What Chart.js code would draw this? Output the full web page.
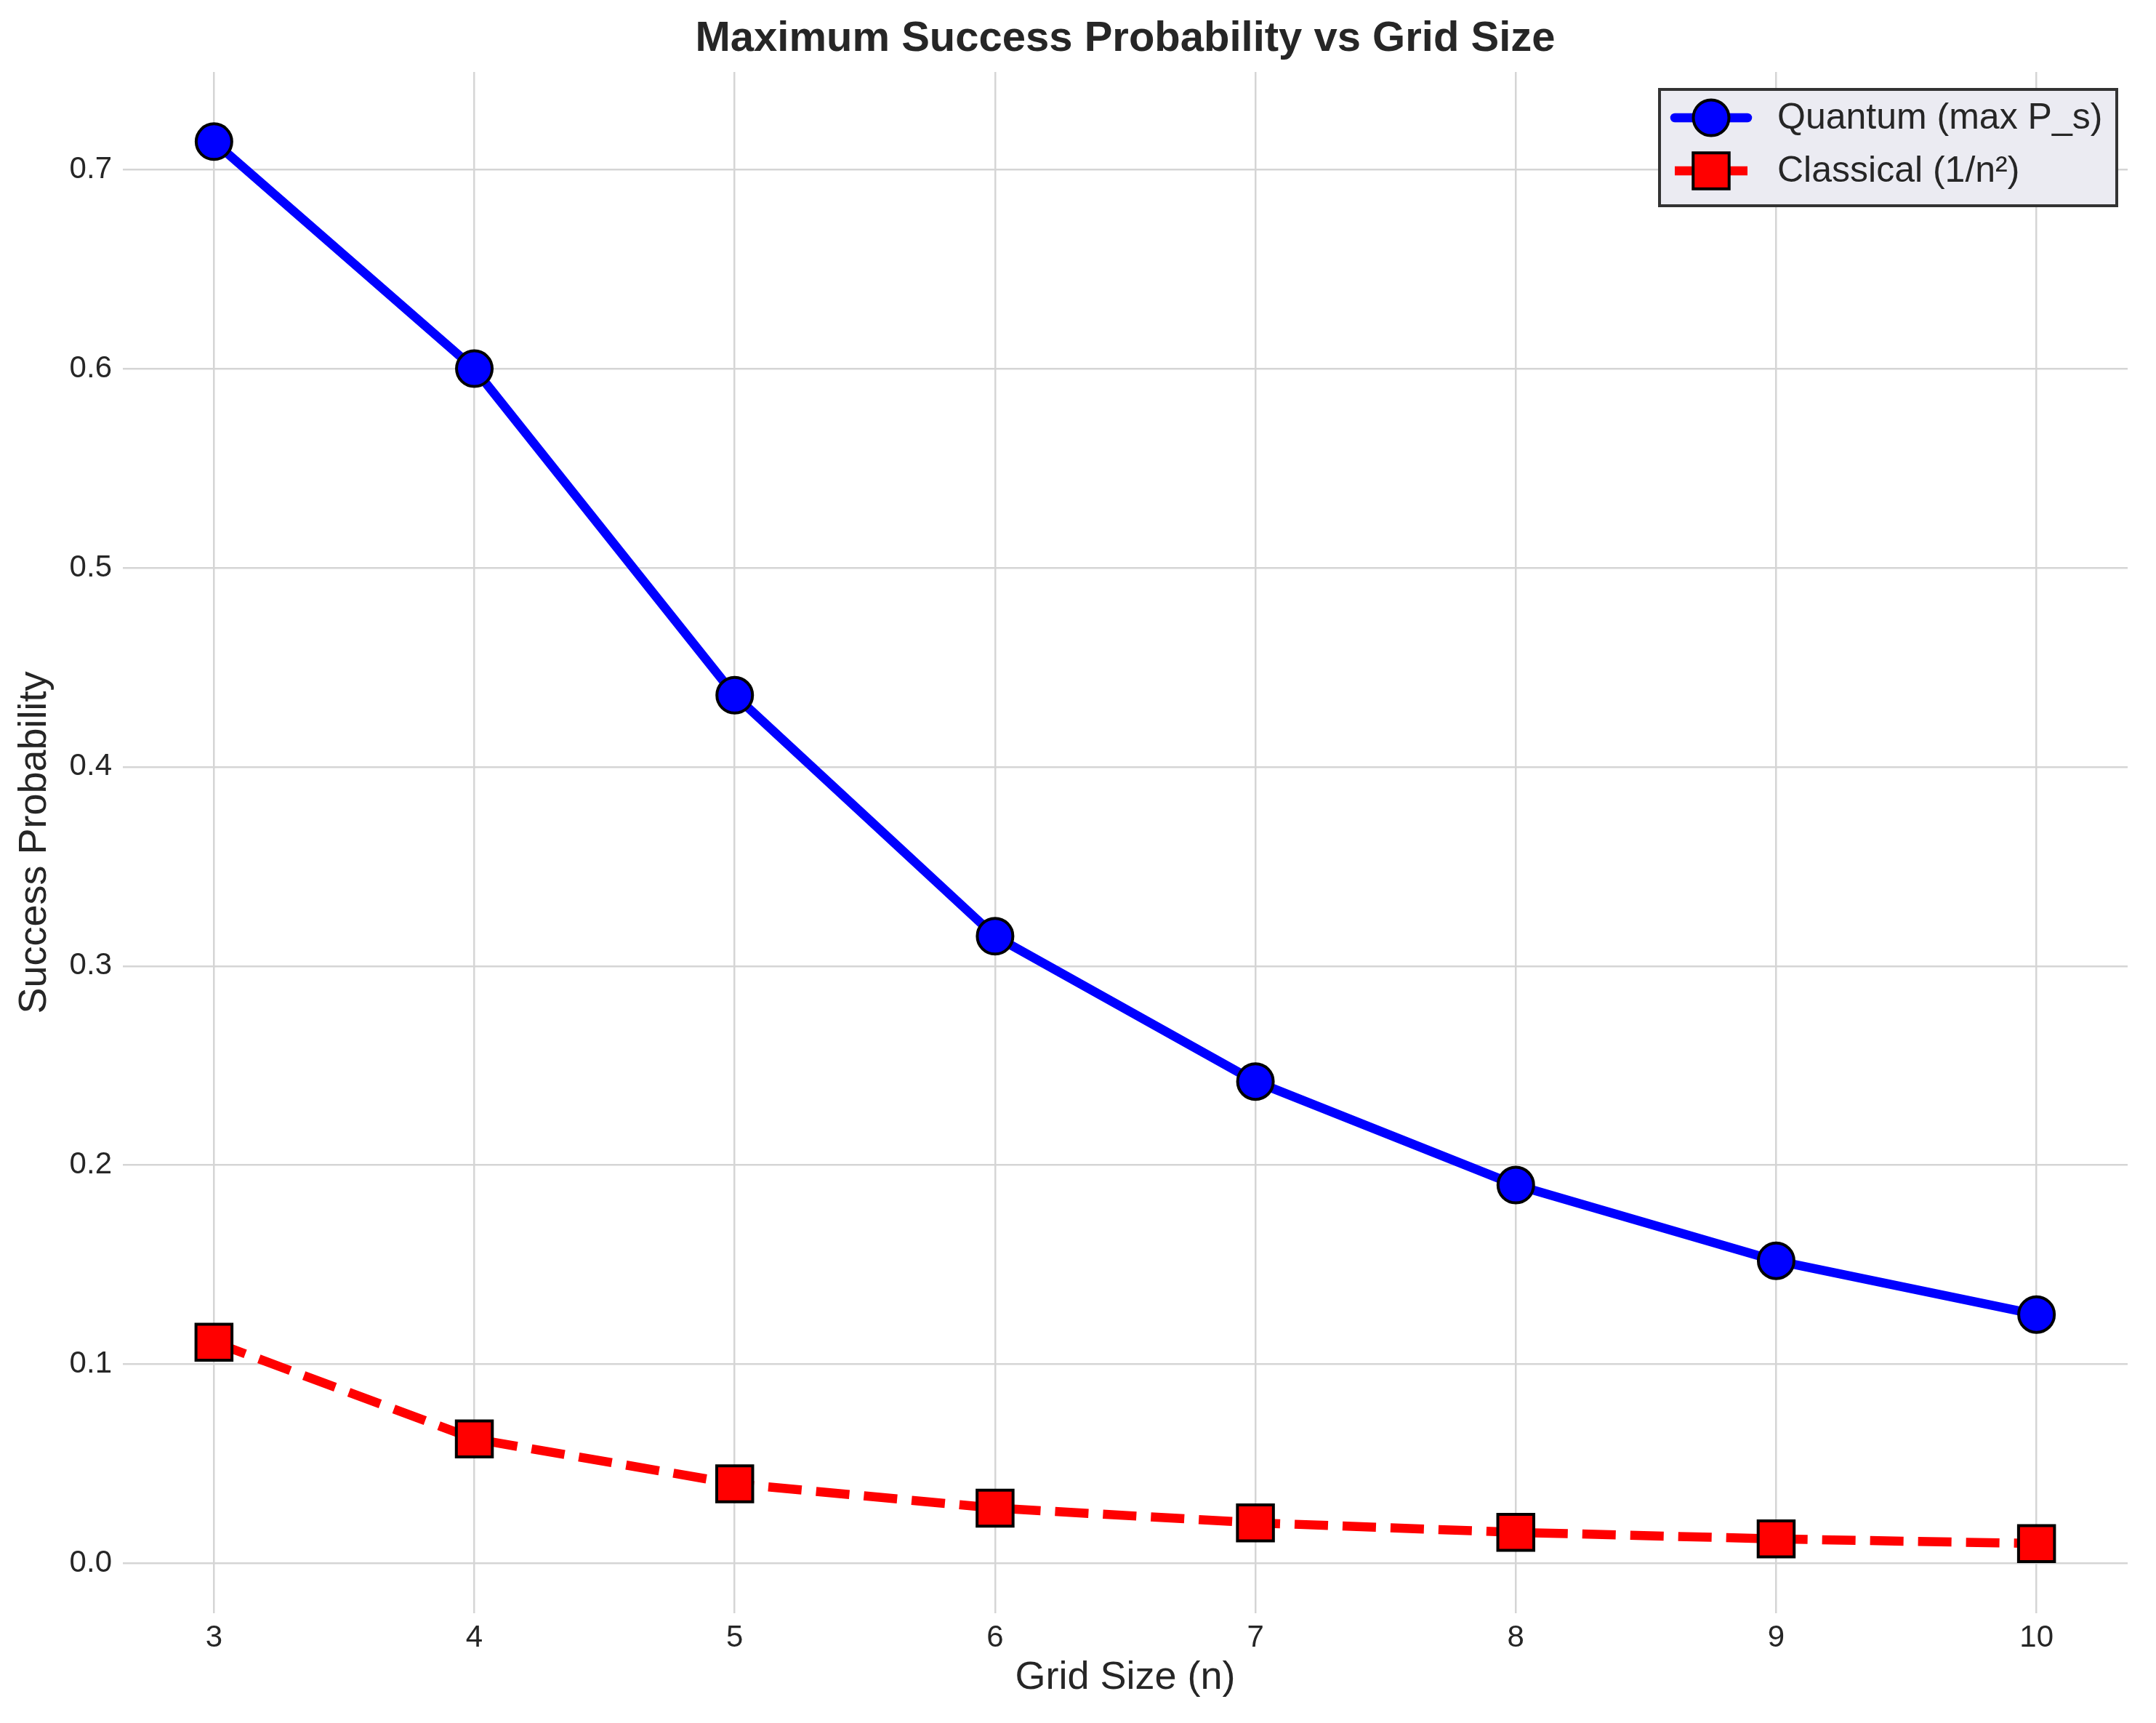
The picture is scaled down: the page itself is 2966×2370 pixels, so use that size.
<!DOCTYPE html>
<html>
<head>
<meta charset="utf-8">
<script src="https://cdn.jsdelivr.net/npm/chart.js@4.4.1/dist/chart.umd.min.js"></script>
<style>
  html, body { margin: 0; padding: 0; background: #ffffff; }
  #wrap { width: 2966px; height: 2370px; position: relative; }
</style>
</head>
<body>
<div id="wrap"><canvas id="c" width="2966" height="2370"></canvas></div>
<script>
// ---- data ----
const gridSizes = [3, 4, 5, 6, 7, 8, 9, 10];
const quantumValues = [0.714, 0.600, 0.436, 0.315, 0.242, 0.190, 0.152, 0.125];
const classicalValues = [0.1111, 0.0625, 0.0400, 0.0278, 0.0204, 0.0156, 0.0123, 0.0100];
const xTickValues = [3, 4, 5, 6, 7, 8, 9, 10];
const yTickValues = [0.0, 0.1, 0.2, 0.3, 0.4, 0.5, 0.6, 0.7];
const seriesLabels = ['Quantum (max P_s)', 'Classical (1/n\u00b2)'];
const chartTitle = 'Maximum Success Probability vs Grid Size';
const xAxisTitle = 'Grid Size (n)';
const yAxisTitle = 'Success Probability';

const FONT = "'Liberation Sans', Arial, Helvetica, sans-serif";
const TEXT = '#262626';
const GRID = '#d5d5d5';

function toPoints(xs, ys) { return xs.map((x, i) => ({ x: x, y: ys[i] })); }

function drawMarker(ctx, style, x, y, r, fill, stroke, bw) {
  ctx.save();
  ctx.fillStyle = fill;
  ctx.strokeStyle = stroke;
  ctx.lineWidth = bw;
  ctx.beginPath();
  if (style === 'rect') {
    const s = Math.SQRT1_2 * r;
    ctx.rect(x - s, y - s, 2 * s, 2 * s);
  } else {
    ctx.arc(x, y, r, 0, Math.PI * 2);
  }
  ctx.fill();
  ctx.stroke();
  ctx.restore();
}

const titlePlugin = {
  id: 'customTitle',
  afterDraw(chart) {
    const ctx = chart.ctx;
    const ca = chart.chartArea;
    ctx.save();
    ctx.font = 'bold 58px ' + FONT;
    ctx.fillStyle = TEXT;
    ctx.textAlign = 'center';
    ctx.textBaseline = 'middle';
    ctx.fillText(chartTitle, (ca.left + ca.right) / 2, 54);
    ctx.restore();
  }
};

const legendPlugin = {
  id: 'customLegend',
  afterDraw(chart) {
    const ctx = chart.ctx;
    const bx = 2283, by = 123, bw = 629, bh = 160;
    ctx.save();
    ctx.fillStyle = '#ebebf2';
    ctx.fillRect(bx, by, bw, bh);
    ctx.strokeStyle = '#333333';
    ctx.lineWidth = 4;
    ctx.strokeRect(bx, by, bw, bh);
    const rows = [162, 235];
    chart.data.datasets.forEach((ds, i) => {
      const y = rows[i];
      ctx.save();
      ctx.strokeStyle = ds.borderColor;
      ctx.lineWidth = ds.borderWidth;
      ctx.lineCap = i === 0 ? 'round' : 'butt';
      ctx.setLineDash([]);
      ctx.beginPath();
      if (i === 0) { ctx.moveTo(2304, y); ctx.lineTo(2404, y); }
      else { ctx.moveTo(2304, y); ctx.lineTo(2404, y); }
      ctx.stroke();
      ctx.restore();
      drawMarker(ctx, ds.pointStyle, 2354, y, ds.pointRadius, ds.pointBackgroundColor, ds.pointBorderColor, ds.pointBorderWidth);
      ctx.font = '50px ' + FONT;
      ctx.fillStyle = TEXT;
      ctx.textAlign = 'left';
      ctx.textBaseline = 'middle';
      ctx.fillText(ds.label, 2445, y + 1);
    });
    ctx.restore();
  }
};

new Chart(document.getElementById('c'), {
  type: 'line',
  data: {
    datasets: [
      {
        label: seriesLabels[0],
        data: toPoints(gridSizes, quantumValues),
        borderColor: '#0000ff',
        backgroundColor: '#0000ff',
        borderWidth: 12.5,
        borderJoinStyle: 'round',
        borderCapStyle: 'round',
        pointStyle: 'circle',
        pointRadius: 24.5,
        pointHoverRadius: 24.5,
        pointBackgroundColor: '#0000ff',
        pointBorderColor: '#000000',
        pointBorderWidth: 4,
        pointHoverBorderWidth: 4,
        tension: 0,
        fill: false,
        clip: false
      },
      {
        label: seriesLabels[1],
        data: toPoints(gridSizes, classicalValues),
        borderColor: '#ff0000',
        backgroundColor: '#ff0000',
        borderWidth: 12.5,
        borderDash: [46, 20],
        borderJoinStyle: 'round',
        borderCapStyle: 'butt',
        pointStyle: 'rect',
        pointRadius: 35,
        pointHoverRadius: 35,
        pointBackgroundColor: '#ff0000',
        pointBorderColor: '#000000',
        pointBorderWidth: 4,
        pointHoverBorderWidth: 4,
        tension: 0,
        fill: false,
        clip: false
      }
    ]
  },
  options: {
    responsive: false,
    animation: false,
    devicePixelRatio: 1,
    events: [],
    layout: { padding: { top: 99, right: 29, left: 0, bottom: 0 } },
    plugins: {
      legend: { display: false },
      title: { display: false },
      tooltip: { enabled: false }
    },
    scales: {
      x: {
        type: 'linear',
        min: 2.65,
        max: 10.35,
        afterBuildTicks(scale) { scale.ticks = xTickValues.map(v => ({ value: v })); },
        afterFit(scale) { scale.height = 151; },
        border: { display: false },
        grid: { color: GRID, lineWidth: 2.5, drawTicks: false },
        ticks: {
          padding: 9,
          color: TEXT,
          font: { family: FONT, size: 42 },
          callback: v => String(v)
        },
        title: {
          display: true,
          text: xAxisTitle,
          color: TEXT,
          font: { family: FONT, size: 54 },
          padding: { top: 0, bottom: 29 }
        }
      },
      y: {
        type: 'linear',
        min: -0.025,
        max: 0.749,
        afterBuildTicks(scale) { scale.ticks = yTickValues.map(v => ({ value: v })); },
        afterFit(scale) { scale.width = 169; },
        border: { display: false },
        grid: { color: GRID, lineWidth: 2.5, drawTicks: false },
        ticks: {
          padding: 15,
          color: TEXT,
          font: { family: FONT, size: 42 },
          callback: v => Number(v).toFixed(1)
        },
        title: {
          display: true,
          text: yAxisTitle,
          color: TEXT,
          font: { family: FONT, size: 54 },
          padding: { top: 16, bottom: 0 }
        }
      }
    }
  },
  plugins: [titlePlugin, legendPlugin]
});
</script>
</body>
</html>
